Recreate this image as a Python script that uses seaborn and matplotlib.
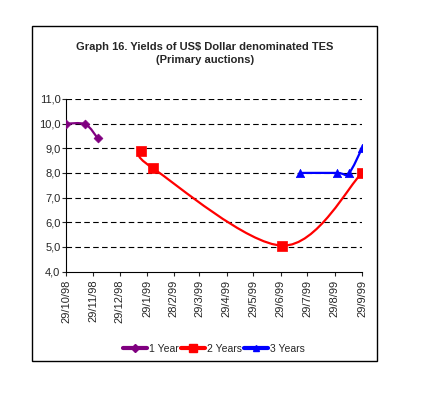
import numpy as np
import pandas as pd
import matplotlib
matplotlib.use("Agg")
import matplotlib.pyplot as plt
import matplotlib.dates as mdates
from matplotlib.path import Path
from matplotlib.patches import PathPatch, Rectangle
from matplotlib.lines import Line2D
from matplotlib.ticker import FuncFormatter
import seaborn as sns

# ── data
one_year_dates = ["1998-10-29", "1998-11-20", "1998-12-04"]
one_year_vals = [10.0, 9.97, 9.4]
two_year_dates = ["1999-01-22", "1999-02-04", "1999-07-01", "1999-09-29"]
two_year_vals = [8.9, 8.2, 5.05, 8.0]
three_year_dates = ["1999-07-21", "1999-09-01", "1999-09-14", "1999-09-29"]
three_year_vals = [8.0, 8.0, 7.98, 9.0]

tick_dates = ["1998-10-29", "1998-11-29", "1998-12-29", "1999-01-29", "1999-02-28",
              "1999-03-29", "1999-04-29", "1999-05-29", "1999-06-29", "1999-07-29",
              "1999-08-29", "1999-09-29"]
tick_labels = ["29/10/98", "29/11/98", "29/12/98", "29/1/99", "28/2/99", "29/3/99",
               "29/4/99", "29/5/99", "29/6/99", "29/7/99", "29/8/99", "29/9/99"]

series = [
    ("1 Year", one_year_dates, one_year_vals, "#800080", "D", 4.5),
    ("2 Years", two_year_dates, two_year_vals, "#FF0000", "s", 7),
    ("3 Years", three_year_dates, three_year_vals, "#0000FF", "^", 6),
]

sns.set_theme(style="white")
plt.rcParams["font.family"] = ["Liberation Sans", "DejaVu Sans"]


def smooth_path(x, y):
    # Catmull-Rom style smoothing like the spreadsheet "smoothed line" option
    pts = np.column_stack([x, y])
    n = len(pts)
    verts, codes = [pts[0]], [Path.MOVETO]
    for i in range(n - 1):
        p0 = pts[max(i - 1, 0)]
        p1 = pts[i]
        p2 = pts[i + 1]
        p3 = pts[min(i + 2, n - 1)]
        verts += [p1 + (p2 - p0) / 6, p2 - (p3 - p1) / 6, p2]
        codes += [Path.CURVE4] * 3
    return Path(verts, codes)


fig = plt.figure(figsize=(4.21, 3.99), dpi=100)
ax = fig.add_axes([66 / 421, 127.5 / 399, 296 / 421, 172.5 / 399])

for label, dates, vals, color, marker, ms in series:
    x = mdates.date2num(pd.to_datetime(dates))
    ax.add_patch(PathPatch(smooth_path(x, np.array(vals)), fill=False,
                           edgecolor=color, lw=1.6, zorder=3))
    df = pd.DataFrame({"x": x, "y": vals})
    sns.scatterplot(data=df, x="x", y="y", ax=ax, color=color, marker=marker,
                    s=ms ** 2, edgecolor=color, linewidth=0.5, zorder=4, legend=False)

ticks = mdates.date2num(pd.to_datetime(tick_dates))
ax.set_xlim(ticks[0], ticks[-1])
ax.set_xticks(ticks)
ax.set_xticklabels(tick_labels, rotation=90, fontsize=8)
ax.set_ylim(4, 11)
ax.set_yticks(np.arange(4, 12, 1))
ax.yaxis.set_major_formatter(FuncFormatter(lambda v, p: f"{v:.1f}".replace(".", ",")))
ax.tick_params(axis="y", labelsize=8, length=3, width=0.8, pad=1, direction="out", left=True)
ax.tick_params(axis="x", length=3, width=0.8, pad=3, direction="out", bottom=True)
ax.set_xlabel("")
ax.set_ylabel("")

for yv in range(5, 12):
    ax.axhline(yv, color="black", lw=0.8, ls=(0, (5, 3)), zorder=1)

for side in ["top", "right"]:
    ax.spines[side].set_visible(False)
for side in ["left", "bottom"]:
    ax.spines[side].set_color("black")
    ax.spines[side].set_linewidth(0.8)

fig.text(205 / 421, 1 - 53.5 / 399,
         "Graph 16. Yields of US$ Dollar denominated TES\n(Primary auctions)",
         ha="center", va="center", fontsize=8, fontweight="bold", linespacing=1.4)

handles = [Line2D([0], [0], color=c, lw=3, marker=m, markersize=ms * 0.8)
           for _, _, _, c, m, ms in series]
fig.legend(handles, [s[0] for s in series], loc="center",
           bbox_to_anchor=(214 / 421, 1 - 349 / 399), ncol=3, frameon=False,
           fontsize=7.5, handlelength=2.3, handletextpad=0.2, columnspacing=0.2)

fig.patches.append(Rectangle((32 / 421, 1 - 361 / 399), 345 / 421, 335 / 399,
                             transform=fig.transFigure, fill=False,
                             edgecolor="black", lw=1))

fig.savefig("out.png", dpi=100)
